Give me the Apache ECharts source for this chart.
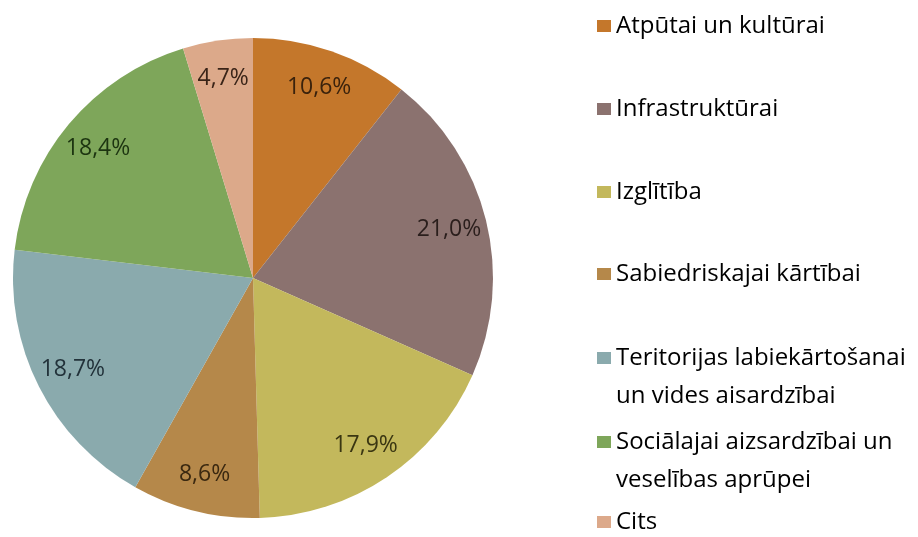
<!DOCTYPE html>
<html>
<head>
<meta charset="utf-8">
<script src="https://cdn.jsdelivr.net/npm/echarts@6/dist/echarts.min.js"></script>
<style>
  html, body { margin: 0; padding: 0; background: #fff; }
  #chart { width: 918px; height: 537px; }
</style>
</head>
<body>
<div id="chart"></div>
<script>
// kategorijas un daļas (%)
const categories = [
  'Atpūtai un kultūrai',
  'Infrastruktūrai',
  'Izglītība',
  'Sabiedriskajai kārtībai',
  'Teritorijas labiekārtošanai\nun vides aisardzībai',
  'Sociālajai aizsardzībai un\nveselības aprūpei',
  'Cits'
]
const shares = [10.6, 21.0, 17.9, 8.6, 18.7, 18.4, 4.7]
const sliceColors = ['#c4772b', '#8b726f', '#c3b85c', '#b5884a', '#8aaaad', '#7ea65a', '#dca98a']
const labelColors = ['#3a220c', '#2a1e1c', '#3a3612', '#3a2810', '#22323a', '#1c3410', '#3a2418']

const fmt = v => v.toFixed(1).replace('.', ',') + '%'

const chart = echarts.init(document.getElementById('chart'))

// katras leģendas pirmās rindas centrs (px)
const legendTops = [26, 109, 192, 274, 358, 442, 522]
const legends = categories.map((name, i) => {
  const twoLines = name.indexOf('\n') >= 0
  return {
    orient: 'vertical',
    left: 597,
    top: legendTops[i] - (twoLines ? 57 : 19),
    padding: 0,
    itemWidth: 14,
    itemHeight: 12,
    itemGap: 0,
    icon: 'rect',
    selectedMode: false,
    data: [name],
    // tukša rinda augšā, lai kvadrātiņš būtu pie pirmās rindas
    formatter: n => (twoLines ? '\n' + n : n),
    textStyle: {
      fontFamily: 'Open Sans',
      fontSize: 24,
      color: '#000',
      lineHeight: 38
    }
  }
})

chart.setOption({
  animation: false,
  legend: legends,
  series: [
    {
      type: 'pie',
      center: [253, 278],
      radius: [0, 240],
      startAngle: 90,
      clockwise: true,
      label: { show: false },
      labelLine: { show: false },
      emphasis: { disabled: true },
      data: categories.map((name, i) => ({
        name: name,
        value: shares[i],
        itemStyle: { color: sliceColors[i] }
      }))
    },
    {
      // tikai etiķetes tuvāk malai
      type: 'pie',
      center: [253, 278],
      radius: [158, 240],
      startAngle: 90,
      clockwise: true,
      silent: true,
      labelLine: { show: false },
      emphasis: { disabled: true },
      label: {
        show: true,
        position: 'inside',
        fontFamily: 'Open Sans',
        fontSize: 23,
        formatter: p => fmt(p.value)
      },
      data: categories.map((name, i) => ({
        name: name,
        value: shares[i],
        itemStyle: { color: 'rgba(0,0,0,0)' },
        label: { color: labelColors[i] }
      }))
    }
  ]
})
</script>
</body>
</html>
